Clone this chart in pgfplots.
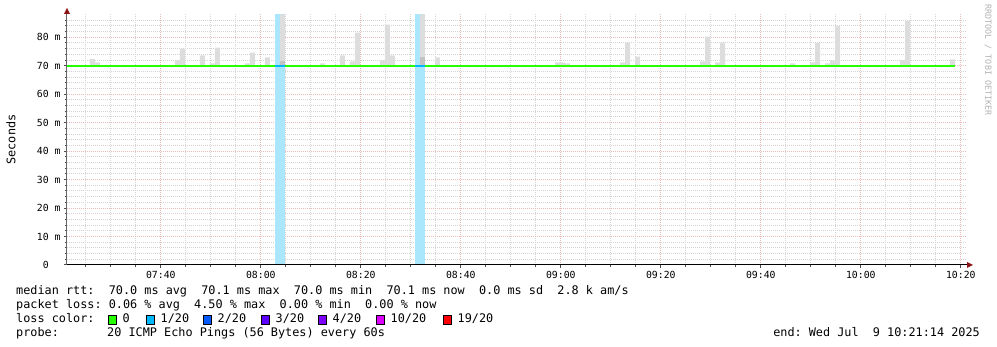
\documentclass[border=0pt]{standalone}
\usepackage{pgfplots}
\pgfplotsset{compat=1.18}
\usepackage{fontspec}
\setmainfont{DejaVu Sans Mono}
\frenchspacing
\definecolor{smoke}{RGB}{221,221,221}
\definecolor{smokedark}{RGB}{195,195,195}
\definecolor{lossbg}{RGB}{170,230,252}
\definecolor{loss0}{HTML}{26FF00}
\definecolor{loss1}{HTML}{00B8FF}
\definecolor{loss2}{HTML}{0059FF}
\definecolor{loss3}{HTML}{5E00FF}
\definecolor{loss4}{HTML}{7E00FF}
\definecolor{loss10}{HTML}{DD00FF}
\definecolor{loss19}{HTML}{FF0000}
\definecolor{gridminor}{RGB}{212,212,212}
\definecolor{gridmajor}{RGB}{234,188,188}
\definecolor{arrowred}{RGB}{140,20,20}
\newcommand\tickfont{\fontsize{9.8pt}{11pt}\selectfont}
\newcommand\legfont{\fontsize{11.83pt}{14pt}\selectfont}
\begin{document}
\frenchspacing
\begin{tikzpicture}[x=1pt,y=1pt]
\path[use as bounding box] (-67,-82) rectangle (930,265);
\begin{axis}[at={(0,0)}, anchor=south west, scale only axis,
  width=900pt, height=250.5pt,
  xmin=21.2333, xmax=201.2333, ymin=0, ymax=88,
  axis line style={draw=none},
  xtick={40,60,80,100,120,140,160,180,200},
  xticklabels={07:40,08:00,08:20,08:40,09:00,09:20,09:40,10:00,10:20},
  minor xtick={25,30,...,200},
  ytick={0,10,20,30,40,50,60,70,80},
  yticklabels={0\phantom{xm},10 m,20 m,30 m,40 m,50 m,60 m,70 m,80 m},
  minor ytick={2,4,...,86},
  grid=both,
  major grid style={gridmajor, line width=1pt, dash pattern=on 1pt off 1pt},
  minor grid style={gridminor, line width=1pt, dash pattern=on 1pt off 1pt},
  tick align=outside, tick pos=left,
  major tick length=3pt, minor tick length=2pt,
  tick style={black!70, line width=1pt},
  xticklabel style={font=\tickfont},
  yticklabel style={font=\tickfont},
]
% packet loss background columns
\addplot[fill=lossbg, draw=none] coordinates {(62.833,0) (62.833,88) (64.833,88) (64.833,0)};
\addplot[fill=lossbg, draw=none] coordinates {(90.833,0) (90.833,88) (92.833,88) (92.833,0)};
% smoke (max of pings per step)
\addplot[const plot, fill=smoke, draw=none] coordinates {
(21.233,70)
(25.833,72.4) (26.833,71.2) (27.833,70)
(42.833,71.9) (43.833,75.9) (44.833,70)
(47.833,73.6) (48.833,70)
(49.833,70.8) (50.833,76.4) (51.833,70)
(56.833,70.8) (57.833,74.6) (58.833,70)
(60.833,72.9) (61.833,70)
(63.833,88) (64.833,70)
(71.833,70.8) (72.833,70)
(75.833,73.6) (76.833,70)
(77.833,71.5) (78.833,81.6) (79.833,70)
(83.833,71.9) (84.833,84.4) (85.833,73.6) (86.833,70)
(91.833,88) (92.833,70)
(94.833,72.9) (95.833,70)
(118.833,71.2) (120.833,70.8) (121.833,70)
(131.833,71.2) (132.833,78.1) (133.833,70)
(134.833,73.2) (135.833,70)
(147.833,71.5) (148.833,80.2) (149.833,70)
(150.833,71.2) (151.833,78.1) (152.833,70)
(165.833,70.8) (166.833,70)
(169.833,71.2) (170.833,77.9) (171.833,70)
(172.833,70.8) (173.833,71.9) (174.833,84.0) (175.833,70)
(187.833,72.1) (188.833,85.8) (189.833,70)
(197.833,72.2) (198.833,70)
};
\addplot[fill=smokedark, draw=none] coordinates {(63.833,70) (63.833,71.5) (64.833,71.5) (64.833,70)};
\addplot[fill=smokedark, draw=none] coordinates {(91.833,70) (91.833,73.2) (92.833,73.2) (92.833,70)};
% median rtt
\addplot[loss0, line width=2pt] coordinates {(21.233,70) (198.833,70)};
\addplot[loss1, line width=2pt] coordinates {(62.833,70) (64.833,70)};
\addplot[loss1, line width=2pt] coordinates {(90.833,70) (92.833,70)};
\end{axis}
% axis lines and arrows
\draw[black!60, line width=1pt] (0,0) -- (0,253);
\fill[arrowred] (0,257) -- (-3,251) -- (3,251) -- cycle;
\draw[black, line width=1pt] (0,0) -- (902,0);
\fill[arrowred] (906,0) -- (900,-3) -- (900,3) -- cycle;
% titles
\node[rotate=90, font=\legfont] at (-56,125.5) {Seconds};
\node[rotate=-90, font=\fontsize{8.4pt}{10pt}\selectfont, text=black!30] at (921,205) {RRDTOOL / TOBI OETIKER};
% legend
\node[anchor=base west, inner sep=0pt, font=\legfont] at (-51,-30) {median rtt:~~70.0 ms avg~~70.1 ms max~~70.0 ms min~~70.1 ms now~~0.0 ms sd~~2.8 k am/s};
\node[anchor=base west, inner sep=0pt, font=\legfont] at (-51,-43.9) {packet loss:~0.06 \% avg~~4.50 \% max~~0.00 \% min~~0.00 \% now};
\node[anchor=base west, inner sep=0pt, font=\legfont] at (-51,-57.8) {loss color:};
\foreach \bx/\col in {41/loss0, 79/loss1, 136/loss2, 194/loss3, 251/loss4, 309/loss10, 376/loss19}{
  \draw[fill=\col, line width=0.8pt] (\bx,-59.3) rectangle ++(8.5,9);
}
\node[anchor=base west, inner sep=0pt, font=\legfont] at (55.5,-57.8) {0};
\node[anchor=base west, inner sep=0pt, font=\legfont] at (93.5,-57.8) {1/20};
\node[anchor=base west, inner sep=0pt, font=\legfont] at (150.5,-57.8) {2/20};
\node[anchor=base west, inner sep=0pt, font=\legfont] at (208.5,-57.8) {3/20};
\node[anchor=base west, inner sep=0pt, font=\legfont] at (265.5,-57.8) {4/20};
\node[anchor=base west, inner sep=0pt, font=\legfont] at (323.5,-57.8) {10/20};
\node[anchor=base west, inner sep=0pt, font=\legfont] at (390.5,-57.8) {19/20};
\node[anchor=base west, inner sep=0pt, font=\legfont] at (-51,-71.7) {probe:};
\node[anchor=base west, inner sep=0pt, font=\legfont] at (40,-71.7) {20 ICMP Echo Pings (56 Bytes) every 60s};
\node[anchor=base east, inner sep=0pt, font=\legfont] at (913,-71.7) {end:~Wed Jul~~9 10:21:14 2025};
\end{tikzpicture}
\end{document}
